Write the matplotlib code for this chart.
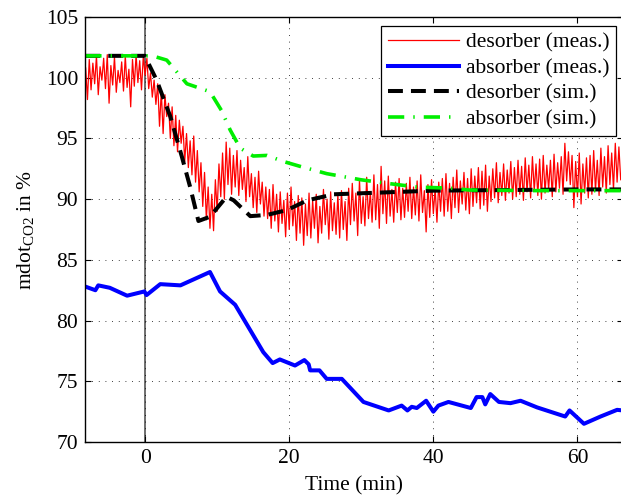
import numpy as np
import matplotlib
matplotlib.use('Agg')
import matplotlib.pyplot as plt

# desorber measured, sampled every 0.25 min starting at -8.25 min
des_meas = [
    100.8, 98.2, 101.5, 99.0, 101.2, 99.5, 101.8, 98.6, 100.9, 99.8, 101.6, 99.1, 101.9, 97.9, 101.0, 99.4, 101.7, 98.8, 100.6, 99.6,
    101.3, 98.9, 101.8, 99.2, 100.7, 97.6, 101.5, 99.3, 101.9, 99.6, 101.4, 99.0, 101.8, 100.2, 101.6, 99.1, 100.4, 98.4, 99.8, 97.8,
    99.5, 96.0, 98.9, 95.4, 98.6, 96.8, 97.9, 95.0, 97.6, 94.4, 96.9, 93.9, 96.5, 94.6, 96.0, 93.1, 95.4, 92.6, 94.8, 92.0,
    95.2, 91.4, 94.0, 90.6, 93.0, 89.4, 92.2, 88.3, 91.0, 87.6, 90.4, 87.4, 91.6, 89.0, 92.9, 90.2, 93.8, 90.0, 94.7, 91.2,
    94.2, 90.4, 93.6, 91.0, 94.0, 90.3, 93.2, 90.8, 92.6, 89.8, 93.5, 90.2, 92.1, 89.3, 91.8, 88.9, 92.3, 89.6, 91.4, 88.6,
    91.0, 88.4, 90.8, 87.6, 91.2, 88.2, 90.4, 87.3, 90.6, 88.0, 89.9, 86.9, 90.5, 87.5, 91.0, 87.8, 89.8, 86.6, 90.3, 87.2,
    90.1, 86.2, 89.6, 87.0, 90.5, 86.8, 89.9, 87.6, 90.4, 86.4, 89.4, 87.2, 90.8, 87.9, 90.0, 86.7, 90.6, 87.4, 89.7, 87.1,
    90.4, 86.8, 90.7, 87.5, 89.8, 86.6, 90.9, 87.9, 91.3, 88.2, 90.5, 87.0, 91.6, 88.0, 90.2, 87.8, 91.8, 88.4, 90.6, 88.1,
    92.0, 88.3, 91.2, 87.6, 92.7, 88.8, 91.5, 88.0, 91.9, 88.6, 90.8, 88.1, 91.4, 88.9, 91.7, 88.3, 90.9, 88.5, 91.3, 89.0,
    91.8, 88.4, 91.0, 88.7, 91.5, 88.2, 92.0, 88.9, 90.7, 87.3, 91.2, 88.5, 91.6, 88.8, 90.9, 88.1, 91.4, 89.0, 91.7, 88.6,
    92.1, 89.0, 91.3, 88.4, 91.8, 89.3, 92.4, 88.9, 91.5, 89.6, 92.2, 89.1, 91.7, 88.8, 92.5, 89.4, 91.9, 89.7, 92.6, 89.2,
    92.3, 89.5, 92.8, 89.0, 91.9, 89.8, 92.5, 90.1, 93.0, 89.7, 92.2, 90.3, 92.9, 89.9, 92.4, 90.5, 93.1, 90.0, 92.6, 90.2,
    93.2, 90.4, 92.7, 89.9, 93.4, 90.6, 92.8, 90.1, 93.5, 90.7, 92.9, 90.3, 93.3, 90.0, 93.6, 90.5, 92.8, 90.8, 93.2, 90.2,
    93.7, 90.6, 93.0, 90.9, 93.5, 90.4, 94.6, 91.5, 93.9, 91.2, 93.6, 89.3, 93.1, 90.2, 93.8, 89.6, 92.9, 90.5, 93.4, 90.1,
    93.6, 90.4, 94.0, 90.7, 93.2, 90.3, 94.2, 91.0, 93.5, 90.5, 94.4, 91.2, 93.8, 90.8, 94.6, 91.4, 94.3, 91.6,
]
t_meas = -8.25 + 0.25 * np.arange(len(des_meas))

# absorber measured
abs_meas_t = [-8.3, -6.9, -6.5, -4.9, -2.5, -0.1, 0.2, 2.1, 4.9, 9.0, 10.4, 12.5, 15.0, 16.4, 17.7,
              18.7, 20.8, 22.1, 22.7, 22.9, 24.2, 25.2, 27.3, 30.3, 33.8, 35.6, 36.4, 37.0, 37.7,
              39.0, 40.0, 40.7, 42.1, 45.2, 46.0, 46.8, 47.2, 47.9, 49.1, 50.7, 52.1, 54.4, 58.3,
              58.9, 60.9, 63.2, 65.5, 66.3]
abs_meas = [82.8, 82.5, 82.9, 82.7, 82.05, 82.4, 82.1, 83.0, 82.9, 84.0, 82.4, 81.3, 78.8, 77.4, 76.5,
            76.8, 76.3, 76.75, 76.4, 75.9, 75.9, 75.2, 75.2, 73.3, 72.6, 73.0, 72.6, 72.9, 72.8,
            73.4, 72.5, 73.0, 73.3, 72.8, 73.7, 73.7, 73.1, 73.95, 73.3, 73.2, 73.4, 72.85, 72.1,
            72.6, 71.5, 72.1, 72.65, 72.6]

# desorber simulated
des_sim_t = [-8.3, 0.0, 0.2, 1.6, 3.5, 5.1, 6.25, 7.4, 9.0, 11.3, 12.3, 14.6, 16.9, 19.7, 22.5,
             26.2, 30.8, 35.4, 40.0, 50.0, 60.0, 66.3]
des_sim = [101.8, 101.8, 101.5, 99.8, 96.8, 93.5, 91.0, 88.2, 88.55, 90.2, 89.9, 88.6, 88.7, 89.1, 89.9,
           90.4, 90.5, 90.6, 90.7, 90.75, 90.8, 90.8]

# absorber simulated
abs_sim_t = [-8.3, 1.0, 3.0, 5.8, 9.0, 10.6, 11.8, 13.2, 15.0, 16.9, 19.2, 21.5, 25.2, 29.9, 33.6,
             37.7, 42.4, 45.0, 55.0, 66.3]
abs_sim = [101.8, 101.8, 101.45, 99.5, 98.85, 97.3, 95.7, 94.2, 93.55, 93.6, 93.1, 92.7, 92.1, 91.6, 91.3,
           91.0, 90.9, 90.75, 90.7, 90.7]

labels = ['desorber (meas.)', 'absorber (meas.)', 'desorber (sim.)', 'absorber (sim.)']

plt.rcParams['font.family'] = ['Liberation Serif', 'DejaVu Serif']
plt.rcParams['font.size'] = 15.5

fig = plt.figure(figsize=(6.21, 4.98), dpi=100)
ax = fig.add_axes([0.137, 0.1124, 0.866, 0.8535])

ax.plot(t_meas, des_meas, color='#ff0000', lw=0.9, label=labels[0])
ax.plot(abs_meas_t, abs_meas, color='#0000ff', lw=2.9, label=labels[1])
ax.plot(des_sim_t, des_sim, color='k', lw=2.9, dashes=(3.7, 2.0), label=labels[2])
ax.plot(abs_sim_t, abs_sim, color='#00ee00', lw=2.6, dashes=(4.5, 2.5, 0.4, 2.5), label=labels[3])

ax.axvline(0, color='#555555', lw=1.2, zorder=1)

ax.set_xlim(-8.33, 66.3)
ax.set_ylim(70, 105)
ax.set_xticks([0, 20, 40, 60])
ax.set_yticks([70, 75, 80, 85, 90, 95, 100, 105])
ax.grid(True, color='k', lw=0.6, linestyle=(0, (1, 7)))
ax.tick_params(direction='in', top=True, right=True, length=4, width=0.8, pad=5)
for s in ax.spines.values():
    s.set_linewidth(1.0)

ax.set_xlabel('Time (min)', labelpad=6)
ax.set_ylabel('mdot$_\\mathregular{CO2}$ in %', labelpad=6)

leg = ax.legend(loc='upper right', bbox_to_anchor=(0.988, 0.978), borderaxespad=0,
                fancybox=False, edgecolor='k', framealpha=1, handlelength=3.3,
                labelspacing=0.25, handletextpad=0.35, borderpad=0.3)
leg.get_frame().set_linewidth(0.9)

fig.savefig('out.png', dpi=100)
